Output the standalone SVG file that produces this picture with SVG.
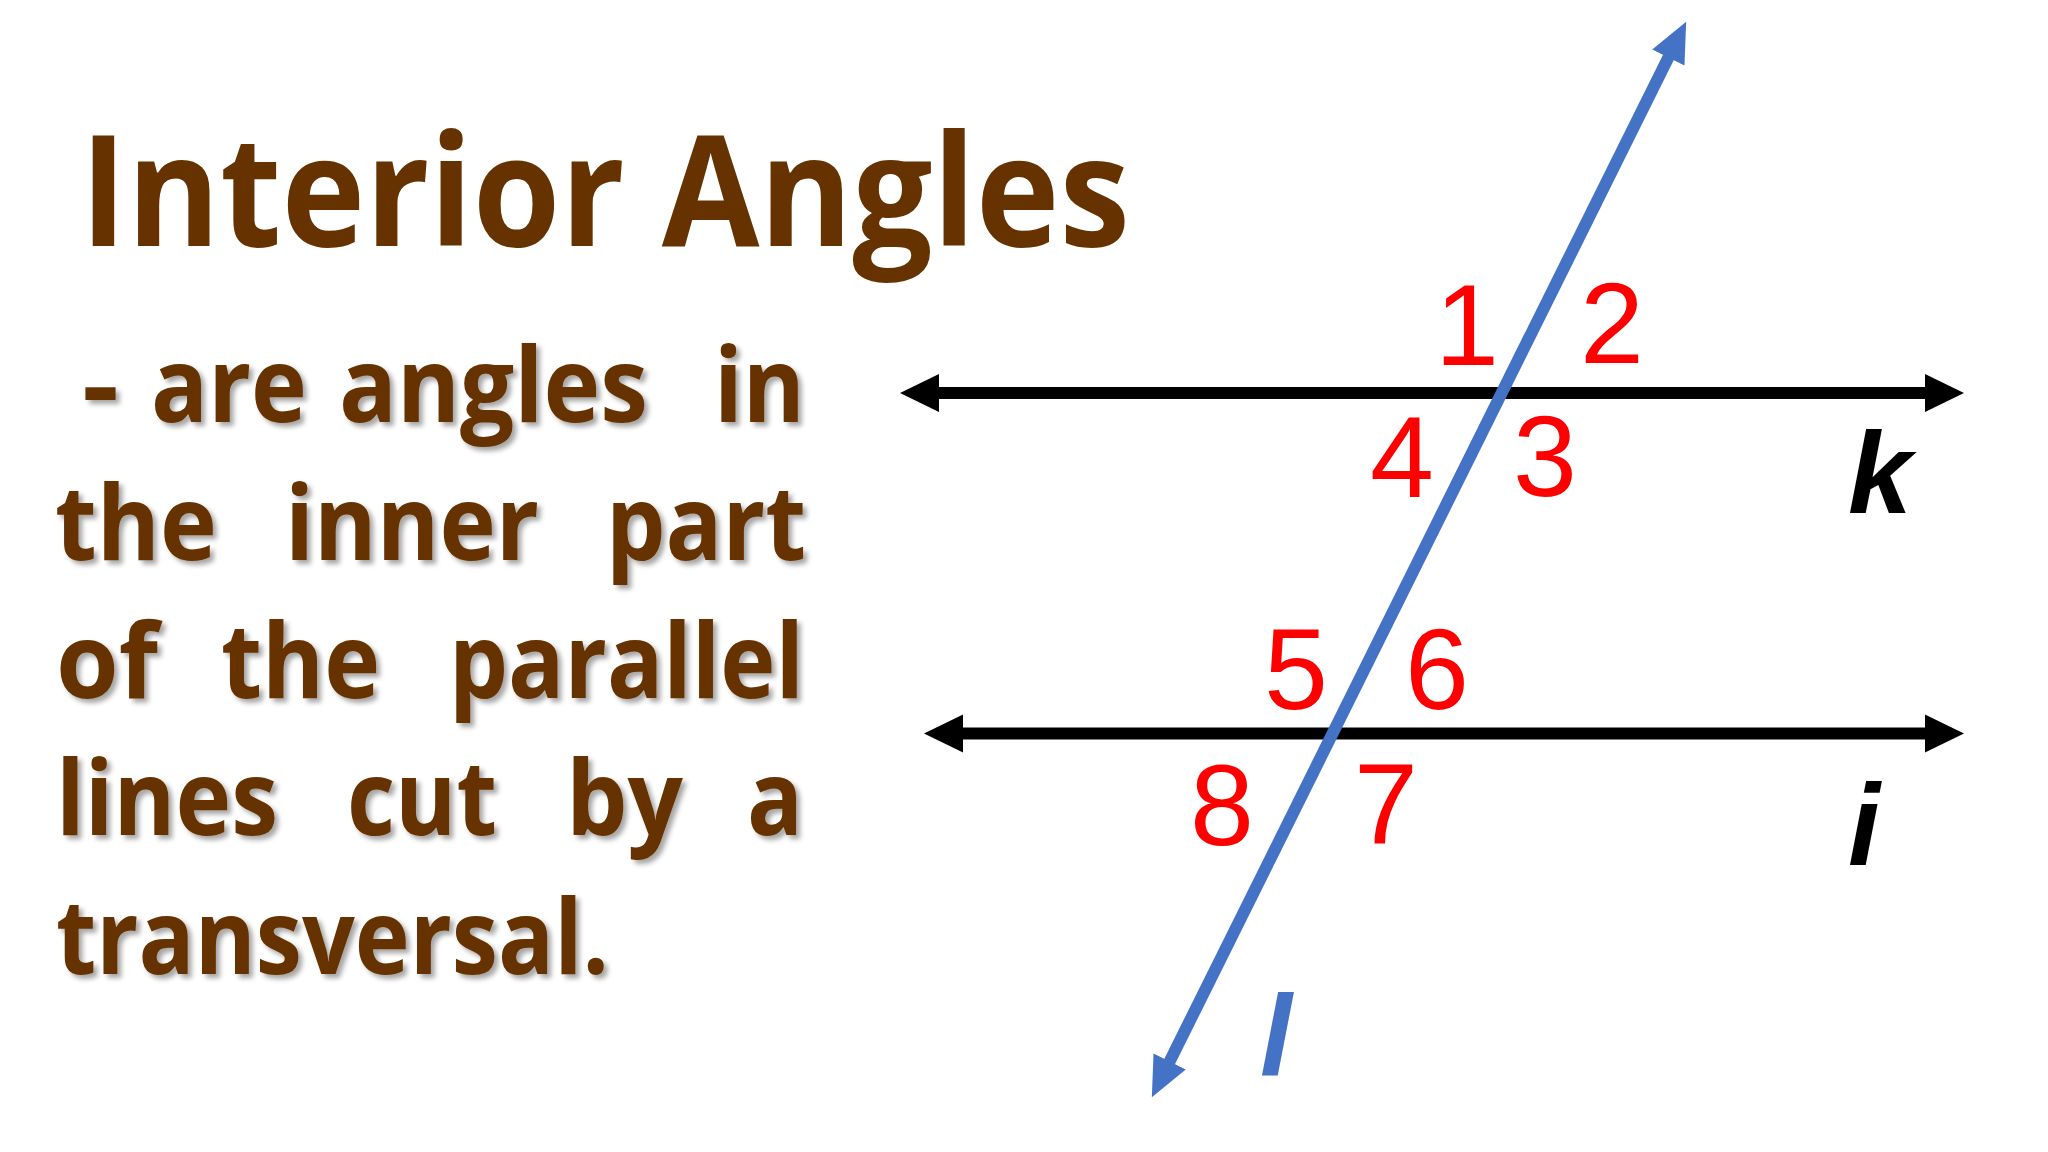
<svg xmlns="http://www.w3.org/2000/svg" width="2048" height="1152" viewBox="0 0 2048 1152">
  <style>
    .title { font-family: "Open Sans", "Liberation Sans", sans-serif; font-weight: 700; font-size: 154px; fill: #663300; }
    .body { font-family: "Open Sans", "Liberation Sans", sans-serif; font-weight: 700; font-size: 104px; fill: #663300; filter: url(#shadow); }
    .num { font-family: "Liberation Sans", Arial, sans-serif; font-size: 115px; fill: #FF0000; text-anchor: middle; }
    .var { font-family: "Liberation Sans", Arial, sans-serif; font-size: 115px; font-weight: 700; font-style: italic; text-anchor: middle; }
  </style>
  <defs>
    <filter id="shadow" x="-10%" y="-20%" width="130%" height="150%">
      <feDropShadow dx="4" dy="4" stdDeviation="2.5" flood-color="#000000" flood-opacity="0.35"/>
    </filter>
    <marker id="arrowBlack" viewBox="0 -20 42 40" markerWidth="42" markerHeight="40" refX="1" refY="0" markerUnits="userSpaceOnUse" orient="auto-start-reverse">
      <path d="M0,-19 L39,0 L0,19 Z" fill="#000000"/>
    </marker>
    <marker id="arrowBlue" viewBox="0 -20 42 40" markerWidth="42" markerHeight="40" refX="1" refY="0" markerUnits="userSpaceOnUse" orient="auto-start-reverse">
      <path d="M0,-18 L40,0 L0,18 Z" fill="#4472C4"/>
    </marker>
  </defs>

  <rect width="2048" height="1152" fill="#FFFFFF"/>

  <g id="title">
    <text class="title" x="80" y="246" textLength="1050" lengthAdjust="spacingAndGlyphs">Interior Angles</text>
  </g>

  <g id="definition">
    <text class="body" x="82" y="422" textLength="37" lengthAdjust="spacingAndGlyphs">-</text>
    <text class="body" x="151" y="422" textLength="156" lengthAdjust="spacingAndGlyphs">are</text>
    <text class="body" x="339" y="422" textLength="309" lengthAdjust="spacingAndGlyphs">angles</text>
    <text class="body" x="714" y="422" textLength="91" lengthAdjust="spacingAndGlyphs">in</text>

    <text class="body" x="55" y="560" textLength="162" lengthAdjust="spacingAndGlyphs">the</text>
    <text class="body" x="285" y="560" textLength="254" lengthAdjust="spacingAndGlyphs">inner</text>
    <text class="body" x="606" y="560" textLength="200" lengthAdjust="spacingAndGlyphs">part</text>

    <text class="body" x="56" y="698" textLength="102" lengthAdjust="spacingAndGlyphs">of</text>
    <text class="body" x="221" y="698" textLength="159" lengthAdjust="spacingAndGlyphs">the</text>
    <text class="body" x="449" y="698" textLength="355" lengthAdjust="spacingAndGlyphs">parallel</text>

    <text class="body" x="56" y="835" textLength="222" lengthAdjust="spacingAndGlyphs">lines</text>
    <text class="body" x="347" y="835" textLength="150" lengthAdjust="spacingAndGlyphs">cut</text>
    <text class="body" x="566" y="835" textLength="117" lengthAdjust="spacingAndGlyphs">by</text>
    <text class="body" x="747" y="835" textLength="56" lengthAdjust="spacingAndGlyphs">a</text>

    <text class="body" x="56" y="974" textLength="553" lengthAdjust="spacingAndGlyphs">transversal.</text>
  </g>

  <g id="connectors">
    <line id="line-k" x1="938" y1="393" x2="1926" y2="393" stroke="#000000" stroke-width="12" marker-start="url(#arrowBlack)" marker-end="url(#arrowBlack)"/>
    <line id="line-i" x1="962" y1="733.5" x2="1926" y2="733.5" stroke="#000000" stroke-width="12" marker-start="url(#arrowBlack)" marker-end="url(#arrowBlack)"/>
    <line id="line-l" x1="1169.2" y1="1062.4" x2="1668.8" y2="56.6" stroke="#4472C4" stroke-width="12" marker-start="url(#arrowBlue)" marker-end="url(#arrowBlue)"/>
  </g>

  <g id="angle-labels">
    <text class="num" x="1467" y="365">1</text>
    <text class="num" x="1612" y="363">2</text>
    <text class="num" x="1545" y="496">3</text>
    <text class="num" x="1402" y="497">4</text>
    <text class="num" x="1296" y="709">5</text>
    <text class="num" x="1437" y="709">6</text>
    <text class="num" x="1386" y="844">7</text>
    <text class="num" x="1222" y="845">8</text>
  </g>

  <g id="line-labels">
    <text class="var" x="1880" y="513" fill="#000000">k</text>
    <text class="var" x="1864" y="865" fill="#000000">i</text>
    <text class="var" x="1276" y="1076" fill="#4472C4">l</text>
  </g>
</svg>
